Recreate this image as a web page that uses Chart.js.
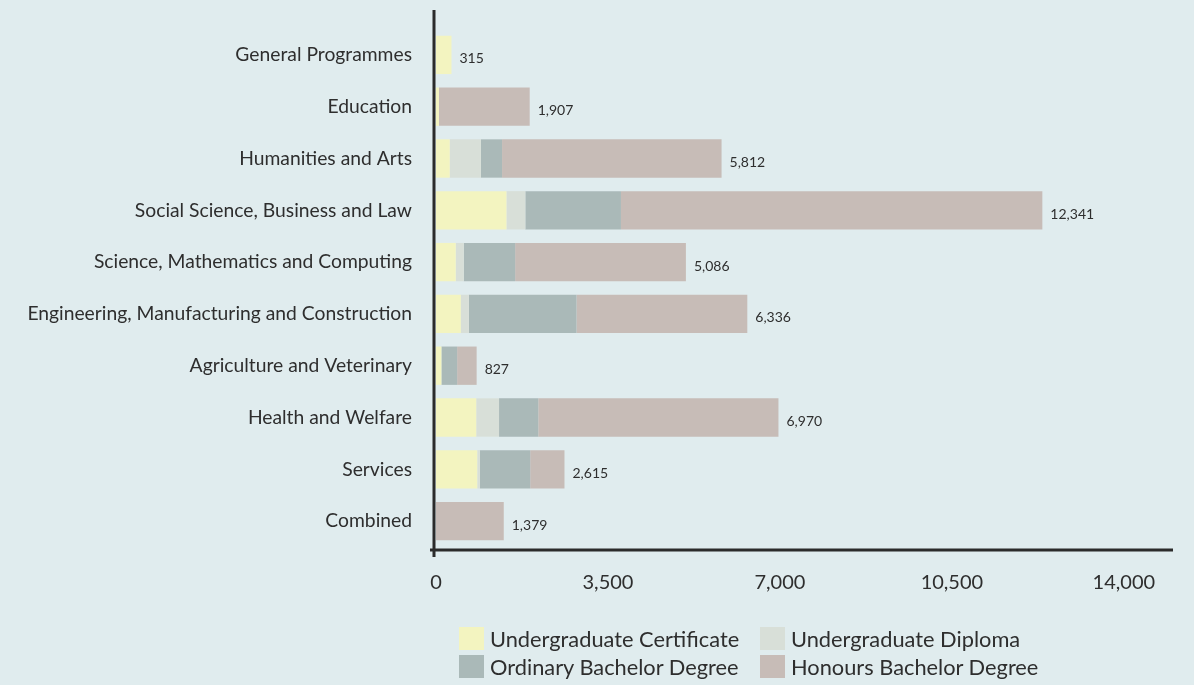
<!DOCTYPE html>
<html>
<head>
<meta charset="utf-8">
<script src="https://cdn.jsdelivr.net/npm/chart.js@4.4.1/dist/chart.umd.min.js"></script>
<style>
  html, body { margin: 0; padding: 0; background: #e0ecee; }
  #wrap { position: relative; width: 1194px; height: 685px; }
  #legend {
    position: absolute; left: 459px; top: 625px;
    display: grid; grid-template-columns: 301px 300px; row-gap: 2px;
    font-family: Lato, sans-serif; font-size: 21.8px; color: #2e2e2e;
  }
  .item { display: flex; align-items: center; height: 26px; }
  .sw { width: 25px; height: 23px; margin-right: 6px; }
</style>
</head>
<body>
<div id="wrap">
  <canvas id="fieldChart" width="1194" height="685"></canvas>
  <div id="legend"></div>
</div>
<script>
const categories = [
    'General Programmes',
    'Education',
    'Humanities and Arts',
    'Social Science, Business and Law',
    'Science, Mathematics and Computing',
    'Engineering, Manufacturing and Construction',
    'Agriculture and Veterinary',
    'Health and Welfare',
    'Services',
    'Combined'
];
const certificate = [315, 60, 280, 1434, 402, 505, 110, 819, 839, 0];
const diploma     = [0, 0, 634, 384, 164, 164, 0, 464, 55, 0];
const ordinary    = [0, 0, 430, 1946, 1044, 2190, 320, 798, 1023, 0];
const honours     = [0, 1847, 4468, 8577, 3476, 3477, 397, 4889, 698, 1379];
const xTicks = [0, 3500, 7000, 10500, 14000];

const seriesNames = ['Undergraduate Certificate', 'Undergraduate Diploma', 'Ordinary Bachelor Degree', 'Honours Bachelor Degree'];
const seriesColors = ['#f3f4c0', '#d8dfd8', '#aab9b8', '#c7bcb7'];
const textColor = '#2e2e2e';

// totals shown at the end of each bar
const totals = categories.map((c, i) => certificate[i] + diploma[i] + ordinary[i] + honours[i]);

const axisLines = {
    id: 'axisLines',
    afterDraw(chart) {
        const c = chart.ctx, a = chart.chartArea;
        c.save();
        c.strokeStyle = '#2b2b2b';
        c.lineWidth = 3;
        c.beginPath();
        c.moveTo(a.left - 2, a.top - 19);
        c.lineTo(a.left - 2, a.bottom + 10);
        c.moveTo(a.left - 6, a.bottom + 3);
        c.lineTo(a.right, a.bottom + 3);
        c.stroke();
        c.restore();
    }
};

const totalLabels = {
    id: 'totalLabels',
    afterDatasetsDraw(chart) {
        const c = chart.ctx;
        const x = chart.scales.x, y = chart.scales.y;
        c.save();
        c.font = '14px Lato, sans-serif';
        c.fillStyle = textColor;
        c.textBaseline = 'middle';
        c.textAlign = 'left';
        totals.forEach((t, i) => {
            c.fillText(t.toLocaleString('en-US'), x.getPixelForValue(t) + 8, y.getPixelForValue(i) + 4);
        });
        c.restore();
    }
};

const datasets = [certificate, diploma, ordinary, honours].map((d, i) => ({
    label: seriesNames[i],
    data: d,
    backgroundColor: seriesColors[i],
    borderWidth: 0,
    barPercentage: 0.74,
    categoryPercentage: 1
}));

new Chart(document.getElementById('fieldChart').getContext('2d'), {
    type: 'bar',
    data: { labels: categories, datasets: datasets },
    options: {
        indexAxis: 'y',
        responsive: false,
        animation: false,
        layout: { padding: { top: 29, right: 21, bottom: 78, left: 0 } },
        plugins: {
            legend: { display: false },
            tooltip: { enabled: false }
        },
        scales: {
            x: {
                stacked: true,
                min: 0,
                max: 15000,
                afterBuildTicks: s => { s.ticks = xTicks.map(v => ({ value: v })); },
                afterFit: s => { s.height = 60; },
                grid: { display: false, drawTicks: false },
                border: { display: false },
                ticks: {
                    padding: 24,
                    color: textColor,
                    font: { family: 'Lato', size: 20 },
                    callback: v => v.toLocaleString('en-US')
                }
            },
            y: {
                stacked: true,
                afterFit: s => { s.width = 436; s.paddingTop = 0; s.paddingBottom = 0; },
                grid: { display: false, drawTicks: false },
                border: { display: false },
                ticks: {
                    padding: 24,
                    color: textColor,
                    font: { family: 'Lato', size: 19.3 }
                }
            }
        }
    },
    plugins: [axisLines, totalLabels]
});

// legend in two rows of two, as in the source picture
const legend = document.getElementById('legend');
seriesNames.forEach((name, i) => {
    const item = document.createElement('div');
    item.className = 'item';
    item.innerHTML = '<span class="sw" style="background:' + seriesColors[i] + '"></span>' + name;
    legend.appendChild(item);
});
</script>
</body>
</html>
